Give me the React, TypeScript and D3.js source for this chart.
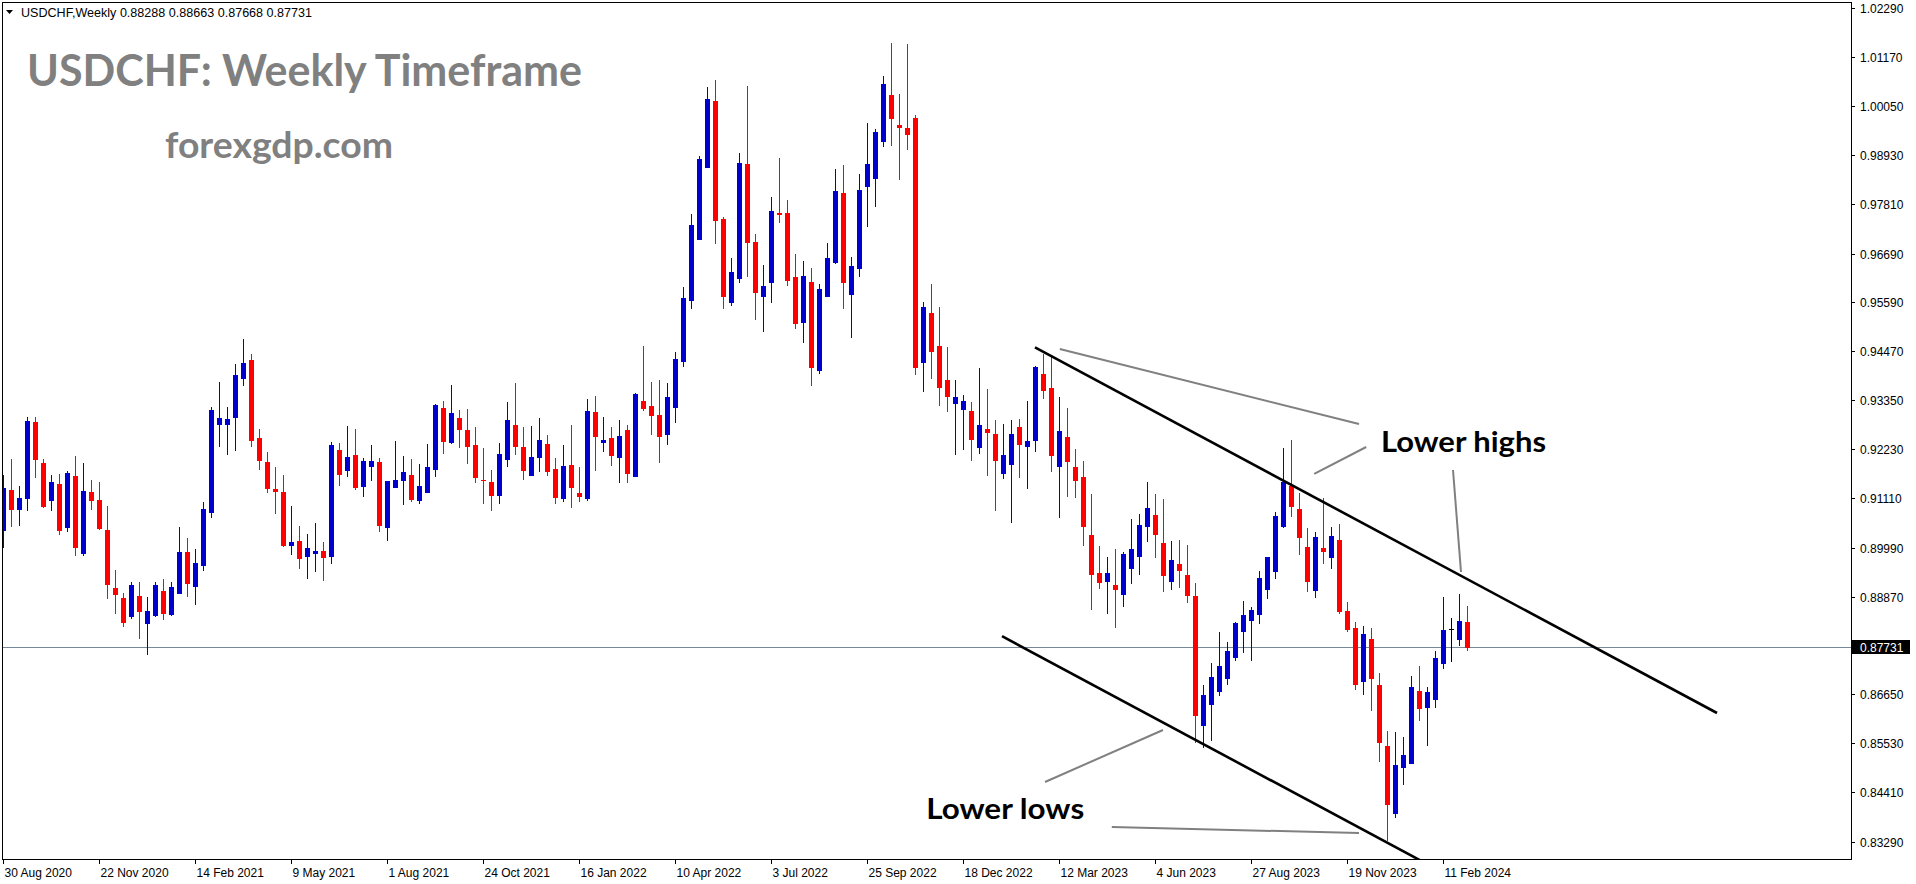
import React from 'react';
import * as d3 from 'd3';

// Weekly candles, 30 Aug 2020 .. 3 Mar 2024 (index 0 = week of 30 Aug 2020)
const opens = [
  0.9039,0.9130,0.9088,0.9113,0.9285,0.9192,0.9108,0.9144,0.9047,0.9162,
  0.8987,0.9126,0.9108,0.9039,0.8907,0.8884,0.8843,0.8889,0.8828,0.8846,
  0.8900,0.8848,0.8896,0.8989,0.8912,0.8960,0.9081,0.9281,0.9281,0.9297,
  0.9386,0.9427,0.9249,0.9194,0.9133,0.9126,0.9006,0.9014,0.8981,0.8987,
  0.8992,0.8981,0.9222,0.9177,0.9210,0.9140,0.9186,0.9194,0.9047,0.9138,
  0.9154,0.9165,0.9108,0.9126,0.9179,0.9317,0.9240,0.9294,0.9267,0.9233,
  0.9154,0.9149,0.9120,0.9202,0.9278,0.9228,0.9165,0.9206,0.9235,0.9178,
  0.9113,0.9187,0.9124,0.9113,0.9308,0.9240,0.9249,0.9206,0.9267,0.9163,
  0.9333,0.9322,0.9301,0.9259,0.9320,0.9425,0.9564,0.9703,0.9867,1.0017,
  0.9748,0.9559,0.9614,0.9873,0.9696,0.9573,0.9605,0.9762,0.9762,0.9616,
  0.9514,0.9604,0.9404,0.9573,0.9651,0.9807,0.9578,0.9637,0.9822,0.9842,
  0.9926,1.0031,0.9962,0.9955,0.9978,0.9423,0.9534,0.9459,0.9381,0.9329,
  0.9316,0.9310,0.9229,0.9269,0.9258,0.9170,0.9190,0.9274,0.9231,0.9245,
  0.9395,0.9363,0.9186,0.9251,0.9183,0.9160,0.9028,0.8941,0.8924,0.8914,
  0.8894,0.8953,0.8981,0.9049,0.9073,0.9010,0.8924,0.8962,0.8937,0.8889,
  0.8595,0.8643,0.8673,0.8703,0.8750,0.8810,0.8835,0.8848,0.8905,0.8946,
  0.9048,0.9139,0.9087,0.9000,0.8903,0.8998,0.8978,0.9016,0.8855,0.8816,
  0.8696,0.8791,0.8686,0.8547,0.8395,0.8500,0.8509,0.8672,0.8636,0.8655,
  0.8737,0.8813,0.8791,0.88288,
];
const highs = [
  0.9165,0.9201,0.9139,0.9296,0.9296,0.9201,0.9165,0.9167,0.9174,0.9208,
  0.9192,0.9153,0.9149,0.9094,0.8948,0.8896,0.8921,0.8921,0.8886,0.8921,
  0.8928,0.8921,0.9046,0.9021,0.8996,0.9103,0.9319,0.9376,0.9319,0.9417,
  0.9474,0.9440,0.9269,0.9217,0.9183,0.9165,0.9094,0.9048,0.9030,0.9055,
  0.9012,0.9240,0.9237,0.9276,0.9269,0.9203,0.9233,0.9203,0.9151,0.9242,
  0.9208,0.9201,0.9190,0.9235,0.9326,0.9333,0.9370,0.9313,0.9315,0.9274,
  0.9226,0.9176,0.9237,0.9331,0.9374,0.9274,0.9276,0.9294,0.9256,0.9203,
  0.9233,0.9278,0.9183,0.9338,0.9345,0.9297,0.9274,0.9290,0.9278,0.9351,
  0.9459,0.9376,0.9381,0.9374,0.9445,0.9593,0.9759,0.9892,1.0049,1.0065,
  0.9753,0.9659,0.9898,1.0051,0.9714,0.9642,0.9799,0.9887,0.9791,0.9668,
  0.9652,0.9636,0.9600,0.9693,0.9862,0.9871,0.9661,0.9851,0.9967,0.9953,
  1.0074,1.0149,1.0033,1.0147,0.9985,0.9559,0.9600,0.9548,0.9456,0.9381,
  0.9347,0.9331,0.9408,0.9361,0.9290,0.9281,0.9290,0.9292,0.9333,0.9413,
  0.9440,0.9433,0.9342,0.9317,0.9224,0.9196,0.9121,0.9003,0.8978,0.8996,
  0.8989,0.9064,0.9076,0.9149,0.9121,0.9110,0.9014,0.9016,0.9005,0.8918,
  0.8687,0.8736,0.8807,0.8784,0.8830,0.8877,0.8864,0.8946,0.8978,0.9080,
  0.9226,0.9244,0.9124,0.9044,0.9035,0.9112,0.9046,0.9053,0.8875,0.8830,
  0.8820,0.8816,0.8713,0.8581,0.8579,0.8567,0.8706,0.8729,0.8681,0.8763,
  0.8886,0.8839,0.8893,0.88663,
];
const lows = [
  0.9000,0.9049,0.9051,0.9085,0.9161,0.9092,0.9085,0.9031,0.9038,0.8983,
  0.8983,0.9088,0.9041,0.8885,0.8851,0.8821,0.8839,0.8794,0.8757,0.8843,
  0.8837,0.8846,0.8895,0.8889,0.8871,0.8949,0.9069,0.9231,0.9213,0.9222,
  0.9370,0.9231,0.9179,0.9126,0.9079,0.9003,0.8985,0.8953,0.8930,0.8946,
  0.8926,0.8965,0.9142,0.9163,0.9133,0.9117,0.9154,0.9038,0.9017,0.9137,
  0.9099,0.9106,0.9101,0.9126,0.9163,0.9215,0.9237,0.9228,0.9192,0.9149,
  0.9101,0.9085,0.9101,0.9186,0.9213,0.9156,0.9165,0.9174,0.9165,0.9101,
  0.9106,0.9092,0.9106,0.9108,0.9177,0.9219,0.9188,0.9149,0.9149,0.9163,
  0.9313,0.9258,0.9195,0.9236,0.9286,0.9414,0.9546,0.9703,0.9867,0.9694,
  0.9544,0.9553,0.9605,0.9619,0.9521,0.9493,0.9559,0.9740,0.9598,0.9500,
  0.9468,0.9370,0.9398,0.9573,0.9648,0.9546,0.9480,0.9619,0.9733,0.9778,
  0.9915,0.9917,0.9840,0.9908,0.9395,0.9357,0.9386,0.9325,0.9311,0.9213,
  0.9224,0.9199,0.9215,0.9165,0.9085,0.9158,0.9058,0.9161,0.9136,0.9220,
  0.9341,0.9174,0.9069,0.9117,0.9115,0.9006,0.8860,0.8908,0.8851,0.8819,
  0.8867,0.8919,0.8940,0.9013,0.8978,0.8901,0.8905,0.8910,0.8876,0.8556,
  0.8545,0.8560,0.8664,0.8689,0.8744,0.8760,0.8744,0.8828,0.8885,0.8930,
  0.9046,0.9071,0.8985,0.8900,0.8887,0.8965,0.8953,0.8851,0.8810,0.8677,
  0.8666,0.8630,0.8513,0.8333,0.8386,0.8461,0.8509,0.8607,0.8550,0.8636,
  0.8725,0.8741,0.8778,0.87668,
];
const closes = [
  0.9134,0.9088,0.9112,0.9288,0.9201,0.9094,0.9149,0.9040,0.9169,0.9001,
  0.9128,0.9108,0.9044,0.8917,0.8894,0.8830,0.8914,0.8855,0.8855,0.8914,
  0.8851,0.8909,0.8989,0.8919,0.8964,0.9087,0.9313,0.9294,0.9292,0.9392,
  0.9420,0.9245,0.9199,0.9136,0.9129,0.9006,0.9012,0.8976,0.8998,0.8992,
  0.8978,0.9233,0.9167,0.9206,0.9138,0.9196,0.9196,0.9051,0.9151,0.9153,
  0.9171,0.9110,0.9139,0.9183,0.9324,0.9242,0.9306,0.9269,0.9231,0.9160,
  0.9152,0.9120,0.9212,0.9290,0.9231,0.9177,0.9206,0.9244,0.9174,0.9115,
  0.9185,0.9138,0.9117,0.9310,0.9254,0.9244,0.9209,0.9253,0.9170,0.9349,
  0.9318,0.9301,0.9254,0.9342,0.9429,0.9568,0.9734,0.9885,1.0021,0.9746,
  0.9573,0.9627,0.9876,0.9696,0.9582,0.9595,0.9766,0.9759,0.9610,0.9512,
  0.9618,0.9411,0.9588,0.9659,0.9812,0.9605,0.9641,0.9814,0.9873,0.9946,
  1.0056,0.9977,0.9958,0.9942,0.9411,0.9548,0.9448,0.9366,0.9345,0.9342,
  0.9333,0.9247,0.9278,0.9263,0.9199,0.9210,0.9258,0.9236,0.9242,0.9411,
  0.9359,0.9211,0.9265,0.9197,0.9152,0.9049,0.8940,0.8921,0.8941,0.8905,
  0.8984,0.8996,0.9051,0.9089,0.9031,0.8937,0.8971,0.8949,0.8892,0.8618,
  0.8662,0.8704,0.8729,0.8763,0.8827,0.8845,0.8857,0.8930,0.8978,0.9071,
  0.9149,0.9094,0.9023,0.8923,0.9023,0.8992,0.9026,0.8855,0.8814,0.8689,
  0.8802,0.8703,0.8557,0.8415,0.8504,0.8526,0.8681,0.8634,0.8670,0.8747,
  0.8811,0.8813,0.8832,0.87731,
];

const dateLabels = [
  '30 Aug 2020','22 Nov 2020','14 Feb 2021','9 May 2021','1 Aug 2021','24 Oct 2021',
  '16 Jan 2022','10 Apr 2022','3 Jul 2022','25 Sep 2022','18 Dec 2022','12 Mar 2023',
  '4 Jun 2023','27 Aug 2023','19 Nov 2023','11 Feb 2024',
];
const dateLabelStep = 12;

const priceTicks = [
  1.0229,1.0117,1.0005,0.9893,0.9781,0.9669,0.9559,0.9447,0.9335,
  0.9223,0.9111,0.8999,0.8887,0.8665,0.8553,0.8441,0.8329,
];
const lastPrice = 0.87731;

// trend channel lines: [barIndex, price] pairs
const channelLines = [
  [[129, 0.94551], [214.25, 0.86221]],
  [[124.875, 0.87971], [180, 0.82585]],
];
// grey pointer lines
const pointerLines = [
  [[132.1, 0.94516], [169.5, 0.92807]],
  [[163.9, 0.91668], [170.4, 0.92283]],
  [[181.25, 0.91759], [182.25, 0.89434]],
  [[130.25, 0.84649], [145, 0.85834]],
  [[138.6, 0.83623], [169.5, 0.83486]],
];
const annotations = [
  { text: 'Lower highs', bar: 172.25, price: 0.92168, width: 165 },
  { text: 'Lower lows', bar: 115.4, price: 0.83805, width: 158 },
];

export default function App() {
  const W = 1916, H = 884;
  const left = 2, top = 2, right = 1851, bottom = 859;
  const x = d3.scaleLinear().domain([0, 1]).range([3, 11]);
  const y = d3.scaleLinear().domain([0.82894, 1.02424]).range([bottom, top]);
  const blue = '#0000CD', red = '#FF0000';
  const axisFont = "'Liberation Sans', Arial, sans-serif";
  const titleFont = "Lato, 'Open Sans', sans-serif";

  const candles = opens.map((o, i) => {
    const c = closes[i], h = highs[i], l = lows[i];
    const cx = Math.round(x(i));
    const color = c > o ? blue : c < o ? red : '#000000';
    const bt = Math.round(y(Math.max(o, c)));
    const bb = Math.round(y(Math.min(o, c)));
    const wt = Math.round(y(h));
    const wb = Math.round(y(l));
    return (
      <g key={i}>
        <rect x={cx} y={wt} width={1} height={Math.max(1, wb - wt + 1)} fill={color} />
        {c === o ? (
          <rect x={cx - 2} y={bt} width={5} height={1} fill={color} />
        ) : (
          <rect x={cx - 2} y={bt} width={5} height={Math.max(1, bb - bt + 1)} fill={color} />
        )}
      </g>
    );
  });

  const lpY = Math.round(y(lastPrice)) + 0.5;

  return (
    <svg
      width={W}
      height={H}
      style={{ position: 'absolute', left: 0, top: 0, background: '#ffffff' }}
      xmlns="http://www.w3.org/2000/svg"
    >
      <defs>
        <clipPath id="plot">
          <rect x={left + 1} y={top + 1} width={right - left - 1} height={bottom - top - 1} />
        </clipPath>
      </defs>
      <rect x={0} y={0} width={W} height={H} fill="#ffffff" />

      {/* last price line */}
      <line x1={left} x2={right} y1={lpY} y2={lpY} stroke="#778899" strokeWidth={1} />

      <g clipPath="url(#plot)">
        {candles}
        {channelLines.map((ln, i) => (
          <line
            key={'c' + i}
            x1={x(ln[0][0])} y1={y(ln[0][1])} x2={x(ln[1][0])} y2={y(ln[1][1])}
            stroke="#000000" strokeWidth={2.6}
          />
        ))}
        {pointerLines.map((ln, i) => (
          <line
            key={'p' + i}
            x1={x(ln[0][0])} y1={y(ln[0][1])} x2={x(ln[1][0])} y2={y(ln[1][1])}
            stroke="#808080" strokeWidth={2}
          />
        ))}
      </g>

      {annotations.map((a, i) => (
        <text
          key={'a' + i}
          x={x(a.bar)} y={y(a.price)}
          fontFamily={titleFont} fontWeight={700} fontSize={29}
          textLength={a.width} lengthAdjust="spacingAndGlyphs" fill="#000000"
        >{a.text}</text>
      ))}

      {/* titles */}
      <text x={27} y={86} fontFamily={titleFont} fontWeight={700} fontSize={43}
        textLength={555} lengthAdjust="spacingAndGlyphs" fill="#808080">USDCHF: Weekly Timeframe</text>
      <text x={165} y={158} fontFamily={titleFont} fontWeight={700} fontSize={37}
        textLength={228} lengthAdjust="spacingAndGlyphs" fill="#808080">forexgdp.com</text>

      {/* header */}
      <path d="M6,10 L13,10 L9.5,14 Z" fill="#000000" />
      <text x={21} y={17} fontFamily={axisFont} fontSize={12.5} fill="#000000"
        textLength={291} lengthAdjust="spacingAndGlyphs">
        {'USDCHF,Weekly  0.88288 0.88663 0.87668 0.87731'}
      </text>

      {/* frame */}
      <rect x={left + 0.5} y={top + 0.5} width={right - left} height={bottom - top}
        fill="none" stroke="#000000" strokeWidth={1} />

      {/* price axis */}
      {priceTicks.map((p, i) => {
        const ty = Math.round(y(p)) + 0.5;
        return (
          <g key={'pt' + i}>
            <line x1={right} x2={right + 4} y1={ty} y2={ty} stroke="#000000" />
            <text x={1860} y={ty} dy="0.35em" fontFamily={axisFont} fontSize={12} fill="#000000">
              {p.toFixed(5)}
            </text>
          </g>
        );
      })}
      <rect x={1852} y={lpY - 7.5} width={58} height={14} fill="#000000" />
      <text x={1860} y={lpY} dy="0.35em" fontFamily={axisFont} fontSize={12} fill="#ffffff">
        {lastPrice.toFixed(5)}
      </text>

      {/* time axis */}
      {dateLabels.map((d, i) => {
        const tx = Math.round(x(i * dateLabelStep)) + 0.5;
        return (
          <g key={'d' + i}>
            <line x1={tx} x2={tx} y1={bottom} y2={bottom + 5} stroke="#000000" />
            <text x={tx + 1} y={877} fontFamily={axisFont} fontSize={12} fill="#000000">{d}</text>
          </g>
        );
      })}
    </svg>
  );
}
